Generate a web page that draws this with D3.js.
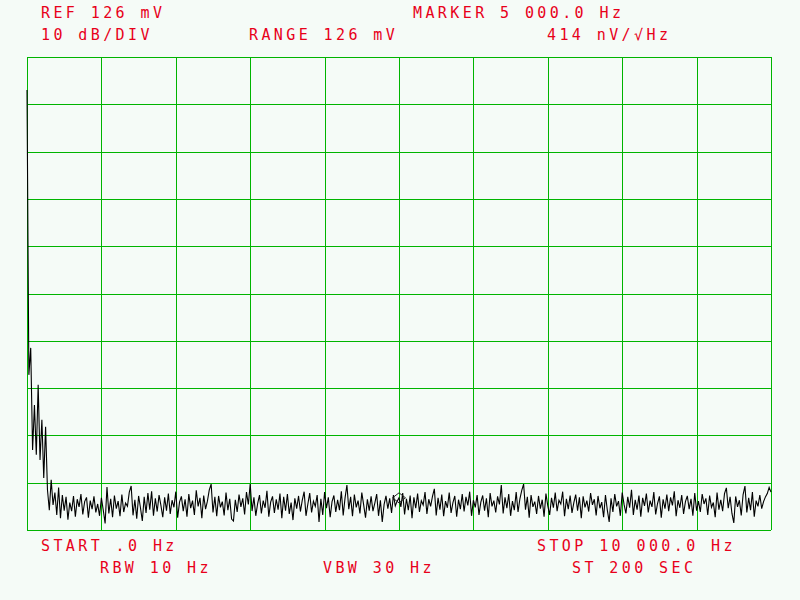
<!DOCTYPE html>
<html>
<head>
<meta charset="utf-8">
<script src="https://cdn.jsdelivr.net/npm/d3@7"></script>
<style>
  html, body { margin: 0; padding: 0; background: #f5fbf7; }
  svg { display: block; }
  text { font-family: "DejaVu Sans Mono", monospace; font-size: 15px; fill: #e8001a; letter-spacing: 3.4px; }
</style>
</head>
<body>
<svg id="chart" width="800" height="600"></svg>
<script>
// ---- data ----
const freqStart = 0;        // Hz
const freqStop = 10000;     // Hz
const ampTop = 0;           // dB relative to REF 126 mV
const ampBottom = -100;     // 10 dB/DIV, 10 divisions
const markerFreq = 5000;

// header / footer annotations
const headerLabels = ["REF 126 mV", "10 dB/DIV", "RANGE 126 mV", "MARKER 5 000.0 Hz", "414 nV/\u221AHz"];
const footerLabels = ["START .0 Hz", "RBW 10 Hz", "VBW 30 Hz", "STOP 10 000.0 Hz", "ST 200 SEC"];

// trace values (dB re REF), 401 points evenly spaced from start to stop
const traceDC = [-7.0, -67.2, -61.5, -83.1, -73.6, -84.1, -69.3, -85.2, -76.7, -89.0, -78.2, -91.5, -95.8, -89.4, -94.7];
const traceNoise = [
  -92.1,-96.8,-91.0,-97.5,-92.6,-95.9,-93.0,-97.8,-94.2,-96.0,
  -92.8,-97.2,-93.5,-95.1,-92.4,-96.7,-94.0,-93.1,-97.4,-93.8,
  -95.6,-92.9,-96.3,-94.5,-97.0,-93.2,-95.8,-98.6,-90.9,-96.5,
  -93.4,-97.3,-92.7,-95.5,-93.9,-97.1,-92.5,-96.2,-94.3,-95.0,
  -92.0,-90.7,-96.9,-93.6,-97.6,-92.8,-95.3,-98.1,-93.0,-96.4,
  -92.2,-95.7,-91.8,-97.0,-93.3,-96.1,-92.6,-94.8,-97.3,-93.1,
  -95.9,-92.3,-96.6,-93.7,-95.2,-91.9,-97.4,-94.1,-92.9,-96.0,
  -93.5,-97.2,-92.4,-95.4,-93.8,-96.8,-91.6,-95.0,-93.2,-97.5,
  -92.7,-95.6,-93.9,-91.5,-90.3,-96.3,-93.0,-97.1,-92.8,-95.2,
  -94.0,-96.9,-92.1,-95.8,-93.4,-97.7,-98.1,-93.6,-96.2,-92.5,
  -95.1,-93.3,-96.7,-92.0,-94.6,-90.3,-96.0,-93.1,-97.0,-94.4,
  -92.6,-96.5,-93.8,-95.3,-91.7,-97.2,-94.1,-92.9,-96.4,-93.5,
  -95.7,-92.3,-97.5,-93.0,-95.9,-92.4,-96.6,-94.2,-97.9,-93.3,
  -95.5,-92.8,-96.1,-93.7,-91.9,-97.0,-94.5,-92.2,-96.3,-93.9,
  -95.0,-92.6,-98.3,-93.4,-96.8,-92.0,-95.4,-93.1,-97.3,-94.0,
  -92.7,-96.2,-93.6,-95.8,-91.8,-96.9,-93.2,-90.5,-95.6,-93.0,
  -97.1,-92.5,-95.2,-93.8,-96.5,-92.1,-94.7,-97.4,-93.5,-95.9,
  -92.9,-96.0,-94.3,-92.4,-97.0,-93.7,-98.3,-94.6,-92.8,-95.5,
  -93.3,-96.4,-92.6,-94.9,-93.9,-93.2,-95.1,-92.2,-96.7,-93.4,
  -95.8,-92.7,-97.5,-93.1,-95.4,-92.3,-96.2,-93.8,-94.7,-92.0,
  -96.6,-93.5,-95.0,-92.9,-91.3,-96.9,-93.2,-95.7,-92.5,-97.1,
  -93.9,-95.3,-92.1,-96.4,-94.2,-92.8,-97.2,-93.6,-95.6,-92.4,
  -96.1,-93.0,-94.8,-91.9,-97.0,-93.7,-95.2,-92.6,-96.8,-94.1,
  -92.7,-95.9,-93.3,-97.3,-92.2,-95.0,-93.8,-96.3,-92.9,-94.6,
  -90.5,-96.5,-93.1,-95.4,-92.4,-97.0,-93.9,-95.8,-92.0,-96.2,
  -93.4,-91.6,-90.3,-95.7,-93.0,-97.4,-92.6,-95.1,-94.0,-96.6,
  -92.8,-95.5,-93.6,-97.2,-92.3,-94.9,-96.8,-93.2,-95.3,-92.1,
  -96.0,-93.7,-94.5,-91.9,-97.1,-93.4,-95.6,-92.7,-96.4,-94.2,
  -92.5,-95.9,-93.1,-97.5,-92.9,-95.2,-93.8,-96.1,-92.2,-94.7,
  -93.5,-96.9,-92.8,-95.4,-94.1,-97.3,-92.6,-95.8,-98.3,-93.3,
  -96.2,-92.4,-95.0,-93.9,-97.0,-92.1,-94.6,-96.5,-93.0,-95.3,
  -91.5,-96.8,-93.6,-95.7,-92.7,-97.2,-93.2,-94.9,-92.3,-96.3,
  -93.8,-95.1,-92.0,-96.7,-94.4,-92.9,-97.4,-93.5,-95.5,-92.5,
  -96.0,-93.1,-94.8,-91.8,-97.1,-93.7,-95.3,-92.6,-96.6,-94.0,
  -92.8,-95.6,-93.4,-97.0,-92.2,-95.9,-93.9,-96.2,-92.4,-94.5,
  -93.3,-96.8,-92.7,-95.2,-94.2,-97.3,-92.1,-95.7,-93.6,-96.0,
  -92.3,-91.1,-95.4,-93.0,-96.5,-98.5,-92.9,-95.1,-93.7,-96.9,
  -92.5,-90.7,-96.3,-93.2,-95.8,-92.0,-97.2,-93.8,-95.0,-92.6,
  -95.5,-94.0,-93.0,-92.3,-91.0,-92.0
];
const trace = traceDC.concat(traceNoise);

// ---- layout ----
const svg = d3.select("#chart");
const plot = { left: 27, right: 771, top: 57, bottom: 530 };
const gridColor = "#00b400";

const x = d3.scaleLinear().domain([freqStart, freqStop]).range([plot.left, plot.right]);
const y = d3.scaleLinear().domain([ampBottom, ampTop]).range([plot.bottom, plot.top]);

const freqStep = (freqStop - freqStart) / (trace.length - 1);
const points = trace.map((v, i) => ({ f: freqStart + i * freqStep, v }));

// grid via axes
const xGrid = d3.axisBottom(x).tickValues(d3.range(freqStart, freqStop + 1, 1000))
  .tickSize(-(plot.bottom - plot.top)).tickFormat("");
const yGrid = d3.axisLeft(y).tickValues(d3.range(ampBottom, ampTop + 1, 10))
  .tickSize(-(plot.right - plot.left)).tickFormat("");

const gx = svg.append("g").attr("transform", `translate(0,${plot.bottom})`).call(xGrid);
const gy = svg.append("g").attr("transform", `translate(${plot.left},0)`).call(yGrid);
[gx, gy].forEach(g => {
  g.select(".domain").remove();
  g.selectAll(".tick line").attr("stroke", gridColor).attr("stroke-width", 1)
    .attr("shape-rendering", "crispEdges");
});

// trace
const line = d3.line().x(d => x(d.f)).y(d => y(d.v));
svg.append("path").datum(points)
  .attr("d", line)
  .attr("fill", "none")
  .attr("stroke", "#000")
  .attr("stroke-width", 1.1)
  .attr("stroke-linejoin", "miter");

// marker diamond
const mIdx = Math.round((markerFreq - freqStart) / freqStep);
const mx = x(points[mIdx].f), my = y(points[mIdx].v);
svg.append("path")
  .attr("d", `M${mx - 6.5},${my} L${mx},${my - 5} L${mx + 6.5},${my} L${mx},${my + 5} Z`)
  .attr("fill", "none").attr("stroke", "#222").attr("stroke-width", 1);

// annotations
const headerPos = [[41, 18], [41, 40], [249, 40], [413, 18], [547, 40]];
const footerPos = [[41, 551], [100, 573], [323, 573], [537, 551], [572, 573]];
svg.selectAll("text.hdr").data(headerLabels).join("text").attr("class", "hdr")
  .attr("x", (d, i) => headerPos[i][0]).attr("y", (d, i) => headerPos[i][1]).text(d => d);
svg.selectAll("text.ftr").data(footerLabels).join("text").attr("class", "ftr")
  .attr("x", (d, i) => footerPos[i][0]).attr("y", (d, i) => footerPos[i][1]).text(d => d);
</script>
</body>
</html>
